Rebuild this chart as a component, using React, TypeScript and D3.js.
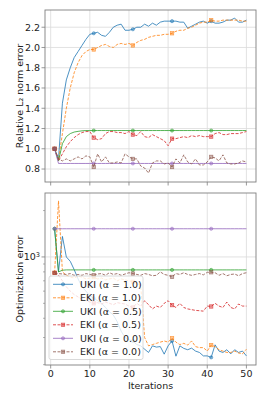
import React from "react";
import * as d3 from "d3";

const iterations = d3.range(1, 51);

const topUKI10 = [1.0,0.9,1.45,1.68,1.8,1.9,1.96,2.02,2.08,2.13,2.14,2.15,2.12,2.11,2.15,2.2,2.22,2.23,2.17,2.17,2.18,2.2,2.2,2.23,2.21,2.24,2.22,2.25,2.26,2.26,2.26,2.26,2.25,2.25,2.19,2.21,2.23,2.25,2.26,2.24,2.26,2.24,2.24,2.25,2.27,2.27,2.29,2.25,2.25,2.27];
const topEKI10 = [1.0,0.89,1.15,1.4,1.6,1.75,1.85,1.92,1.96,1.98,1.98,2.0,2.02,2.03,2.01,2.0,2.03,2.04,2.03,2.04,2.02,2.05,2.07,2.08,2.1,2.11,2.12,2.12,2.13,2.13,2.14,2.16,2.17,2.17,2.19,2.2,2.22,2.24,2.25,2.25,2.27,2.26,2.26,2.27,2.27,2.27,2.27,2.27,2.26,2.26];
const topUKI05 = [1.0,0.88,1.05,1.12,1.15,1.165,1.172,1.177,1.18,1.18,1.18,1.18,1.18,1.18,1.18,1.18,1.18,1.18,1.18,1.18,1.18,1.18,1.18,1.18,1.18,1.18,1.18,1.18,1.18,1.18,1.18,1.18,1.18,1.18,1.18,1.18,1.18,1.18,1.18,1.18,1.18,1.18,1.18,1.18,1.18,1.18,1.18,1.18,1.18,1.18];
const topEKI05 = [1.0,0.88,0.95,1.02,1.07,1.11,1.14,1.16,1.17,1.17,1.11,1.09,1.1,1.15,1.17,1.17,1.16,1.16,1.15,1.17,1.14,1.13,1.17,1.12,1.11,1.14,1.12,1.1,1.08,1.03,1.1,1.1,1.11,1.12,1.11,1.13,1.12,1.13,1.12,1.12,1.12,1.15,1.16,1.14,1.14,1.15,1.15,1.15,1.16,1.17];
const topUKI00 = [1.0,0.855,0.855,0.855,0.855,0.855,0.855,0.855,0.855,0.855,0.855,0.855,0.855,0.855,0.855,0.855,0.855,0.855,0.855,0.855,0.855,0.855,0.855,0.855,0.855,0.855,0.855,0.855,0.855,0.855,0.855,0.855,0.855,0.855,0.855,0.855,0.855,0.855,0.855,0.855,0.855,0.855,0.855,0.855,0.855,0.855,0.855,0.855,0.855,0.855];
const topEKI00 = [1.0,0.9,0.88,0.9,0.88,0.9,0.92,0.9,0.93,0.92,0.82,0.95,0.87,0.92,0.86,0.86,0.87,0.86,0.95,0.92,0.9,0.9,0.83,0.81,0.76,0.86,0.88,0.88,0.85,0.86,0.82,0.9,0.86,0.94,0.87,0.85,0.9,0.84,0.84,0.87,0.92,0.91,0.88,0.94,0.86,0.85,0.85,0.86,0.88,0.87];

const botUKI10 = [1524,800,1359,1000,937,828,720,640,600,560,540,520,500,470,440,420,380,330,300,290,285,270,265,252,240,265,260,262,234,265,285,227,265,255,250,256,245,240,228,228,223,269,245,240,250,235,250,240,245,228];
const botEKI10 = [788,2310,800,760,740,730,750,740,720,730,740,720,730,710,720,730,700,720,710,700,690,680,650,300,265,270,275,280,285,280,297,280,270,275,268,285,262,258,258,245,268,262,250,245,240,240,245,238,235,252];
const botUKI05 = [1524,800,820,824,824,824,824,824,824,824,824,824,824,824,824,824,824,824,824,824,824,824,824,824,824,824,824,824,824,824,824,824,824,824,824,824,824,824,824,824,824,824,824,824,824,824,824,824,824,824];
const botEKI05 = [788,760,700,640,600,570,550,530,520,510,500,505,495,510,500,490,505,500,495,480,470,500,480,520,490,460,480,470,500,520,487,470,500,470,460,455,450,448,445,480,477,500,480,470,510,470,460,495,480,480];
const botUKI00 = [1524,1524,1524,1524,1524,1524,1524,1524,1524,1524,1524,1524,1524,1524,1524,1524,1524,1524,1524,1524,1524,1524,1524,1524,1524,1524,1524,1524,1524,1524,1524,1524,1524,1524,1524,1524,1524,1524,1524,1524,1524,1524,1524,1524,1524,1524,1524,1524,1524,1524];
const botEKI00 = [788,780,775,770,780,760,770,760,780,770,760,775,780,760,790,770,780,760,775,790,780,770,760,780,770,755,760,800,770,760,742,780,770,790,770,760,770,780,765,795,795,790,760,780,755,770,775,755,780,790];

const seriesNames = ["UKI (α = 1.0)", "EKI (α = 1.0)", "UKI (α = 0.5)", "EKI (α = 0.5)", "UKI (α = 0.0)", "EKI (α = 0.0)"];
const colors = ["#1f77b4", "#ff7f0e", "#2ca02c", "#d62728", "#9467bd", "#8c564b"];
const topSeries = [topUKI10, topEKI10, topUKI05, topEKI05, topUKI00, topEKI00];
const botSeries = [botUKI10, botEKI10, botUKI05, botEKI05, botUKI00, botEKI00];

const xTicks = [0, 10, 20, 30, 40, 50];
const topYTicks = [0.8, 1.0, 1.2, 1.4, 1.6, 1.8, 2.0, 2.2];
const botMinorTicks = [200, 300, 400, 500, 600, 700, 800, 900, 2000];
const botMajorTicks = [1000];

const FONT = "DejaVu Sans, sans-serif";
const FS = 9.5;
const SPINE = "#7f7f7f";
const GRID = "#dadada";

const L = 45, R = 256;
const T1 = 10, B1 = 182;
const T2 = 193, B2 = 365;

function Marker({ x, y, i }: { x: number; y: number; i: number }) {
  const c = colors[i];
  if (i % 2 === 0) {
    return <circle cx={x} cy={y} r={1.6} fill={c} fillOpacity={0.45} stroke={c} strokeOpacity={0.7} strokeWidth={0.7} />;
  }
  return <rect x={x - 1.7} y={y - 1.7} width={3.4} height={3.4} fill={c} fillOpacity={0.45} stroke={c} strokeOpacity={0.7} strokeWidth={0.7} />;
}

export default function App() {
  const x = d3.scaleLinear().domain([-1.45, 52.45]).range([L, R]);
  const y1 = d3.scaleLinear().domain([0.672, 2.37]).range([B1, T1]);
  const y2 = d3.scaleLog().domain([199, 2600]).range([B2, T2]);

  const line1 = (vals: number[]) =>
    d3.line<number>().x((_, j) => x(iterations[j])).y((v) => y1(v))(vals) || "";
  const line2 = (vals: number[]) =>
    d3.line<number>().x((_, j) => x(iterations[j])).y((v) => y2(v))(vals) || "";

  const markIdx = [0, 10, 20, 30, 40];

  const renderSeries = (series: number[][], ys: (v: number) => number, lineFn: (v: number[]) => string) =>
    series.map((vals, i) => (
      <g key={i}>
        <path d={lineFn(vals)} fill="none" stroke={colors[i]} strokeWidth={1} strokeOpacity={0.8}
          strokeDasharray={i % 2 === 1 ? "3,1.5" : undefined} />
        {markIdx.map((j) => <Marker key={j} x={x(iterations[j])} y={ys(vals[j])} i={i} />)}
      </g>
    ));

  const legendRows = seriesNames.map((n, i) => ({ n, i }));

  return (
    <svg width={266} height={399} style={{ position: "absolute", left: 0, top: 0 }} fontFamily={FONT}>
      <rect width={266} height={399} fill="white" />
      <defs>
        <clipPath id="c1"><rect x={L} y={T1} width={R - L} height={B1 - T1} /></clipPath>
        <clipPath id="c2"><rect x={L} y={T2} width={R - L} height={B2 - T2} /></clipPath>
      </defs>
      {/* Top panel */}
      <g>
        {xTicks.map((t) => <line key={t} x1={x(t)} x2={x(t)} y1={T1} y2={B1} stroke={GRID} strokeWidth={0.8} />)}
        {topYTicks.map((t) => <line key={t} x1={L} x2={R} y1={y1(t)} y2={y1(t)} stroke={GRID} strokeWidth={0.8} />)}
        <g clipPath="url(#c1)">{renderSeries(topSeries, y1, line1)}</g>
        <rect x={L} y={T1} width={R - L} height={B1 - T1} fill="none" stroke={SPINE} strokeWidth={0.9} />
        {xTicks.map((t) => <line key={t} x1={x(t)} x2={x(t)} y1={B1} y2={B1 + 3.5} stroke={SPINE} strokeWidth={0.8} />)}
        {topYTicks.map((t) => (
          <g key={t}>
            <line x1={L - 3.5} x2={L} y1={y1(t)} y2={y1(t)} stroke={SPINE} strokeWidth={0.8} />
            <text x={L - 5} y={y1(t)} dy="0.35em" textAnchor="end" fontSize={FS} fill="#222">{t.toFixed(1)}</text>
          </g>
        ))}
        <text transform={`translate(${20},${(T1 + B1) / 2}) rotate(-90)`} textAnchor="middle" dy="0.35em" fontSize={FS} fill="#222">Relative L₂ norm error</text>
      </g>
      {/* Bottom panel */}
      <g>
        {xTicks.map((t) => <line key={t} x1={x(t)} x2={x(t)} y1={T2} y2={B2} stroke={GRID} strokeWidth={0.8} />)}
        {botMajorTicks.map((t) => <line key={t} x1={L} x2={R} y1={y2(t)} y2={y2(t)} stroke={GRID} strokeWidth={0.8} />)}
        <g clipPath="url(#c2)">{renderSeries(botSeries, y2, line2)}</g>
        <rect x={L} y={T2} width={R - L} height={B2 - T2} fill="none" stroke={SPINE} strokeWidth={0.9} />
        {xTicks.map((t) => (
          <g key={t}>
            <line x1={x(t)} x2={x(t)} y1={B2} y2={B2 + 3.5} stroke={SPINE} strokeWidth={0.8} />
            <text x={x(t)} y={B2 + 5} dy="0.75em" textAnchor="middle" fontSize={FS} fill="#222">{t}</text>
          </g>
        ))}
        {botMinorTicks.map((t) => <line key={t} x1={L - 2} x2={L} y1={y2(t)} y2={y2(t)} stroke={SPINE} strokeWidth={0.6} />)}
        {botMajorTicks.map((t) => (
          <g key={t}>
            <line x1={L - 3.5} x2={L} y1={y2(t)} y2={y2(t)} stroke={SPINE} strokeWidth={0.8} />
            <text x={L - 5} y={y2(t)} dy="0.35em" textAnchor="end" fontSize={FS} fill="#222">10<tspan dy="-0.45em" fontSize={FS * 0.7}>3</tspan></text>
          </g>
        ))}
        <text transform={`translate(${20},${(T2 + B2) / 2}) rotate(-90)`} textAnchor="middle" dy="0.35em" fontSize={FS} fill="#222">Optimization error</text>
        <text x={(L + R) / 2} y={B2 + 21} textAnchor="middle" dy="0.35em" fontSize={FS} fill="#222">Iterations</text>
        {/* Legend */}
        <rect x={49} y={276} width={94} height={83.5} rx={2} fill="white" fillOpacity={0.8} stroke="#d0d0d0" strokeWidth={0.8} />
        {legendRows.map(({ n, i }) => {
          const ly = 284.3 + i * 13.5;
          return (
            <g key={i}>
              <line x1={53} x2={73} y1={ly} y2={ly} stroke={colors[i]} strokeWidth={1} strokeOpacity={0.8}
                strokeDasharray={i % 2 === 1 ? "3,1.5" : undefined} />
              <Marker x={63} y={ly} i={i} />
              <text x={80} y={ly} dy="0.35em" fontSize={FS} fill="#222">{n}</text>
            </g>
          );
        })}
      </g>
    </svg>
  );
}
